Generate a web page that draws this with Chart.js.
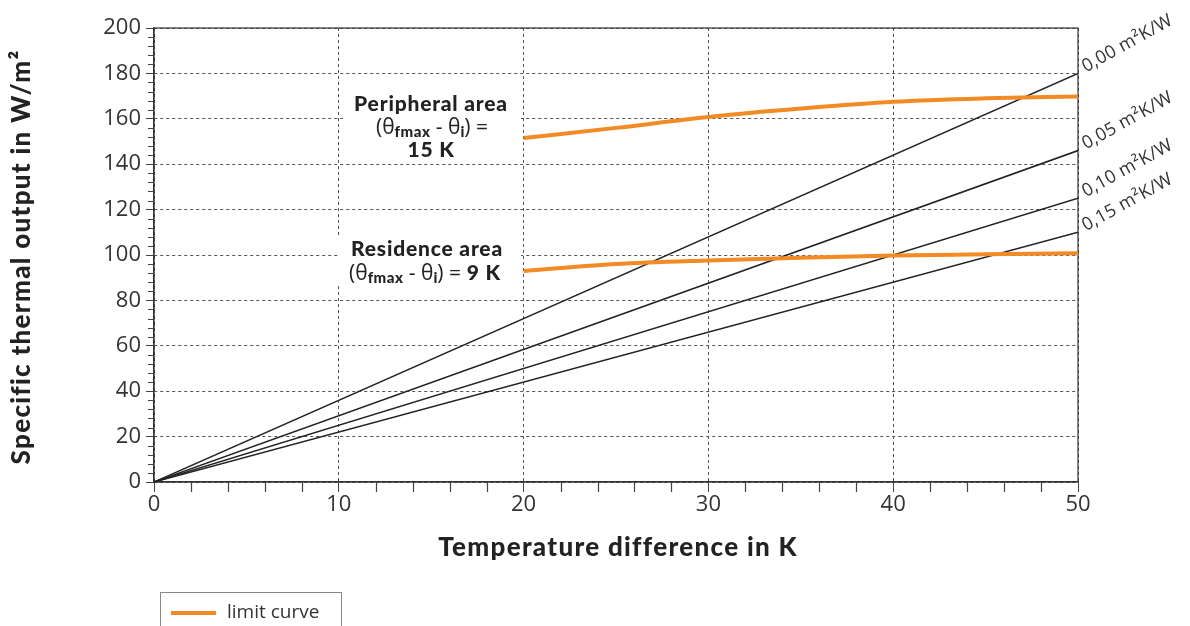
<!DOCTYPE html>
<html>
<head>
<meta charset="utf-8">
<script src="https://cdn.jsdelivr.net/npm/chart.js@4.4.0/dist/chart.umd.min.js"></script>
<style>
    body { margin: 0; background: #fff; overflow: hidden; }
    #wrap { position: relative; width: 1190px; height: 626px; }
    #legend {
        position: absolute; left: 160px; top: 592px; width: 182px; height: 40px;
        border: 1px solid #888; box-sizing: border-box;
        font-family: "Open Sans", sans-serif; font-size: 19px; color: #333;
    }
    #legend .swatch { position: absolute; left: 10px; top: 18px; width: 45px; height: 4px; background: #f28a26; }
    #legend .label { position: absolute; left: 66px; top: 5px; }
</style>
</head>
<body>
<div id="wrap">
    <canvas id="outputChart" width="1190" height="626"></canvas>
    <div id="legend"><span class="swatch"></span><span class="label">limit curve</span></div>
</div>
<script>
// Straight output lines for each floor covering resistance
const tempRange = [0, 50];
const resistanceLabels = ['0,00 m²K/W', '0,05 m²K/W', '0,10 m²K/W', '0,15 m²K/W'];
const outputAt50 = [180, 146, 125, 110];

// Limit curves
const limitTemps = [20, 25, 30, 35, 40, 45, 50];
const peripheralLimit = [151.5, 156, 160.8, 164.5, 167.5, 169, 169.8];
const residenceLimit = [93, 96, 97.6, 98.8, 99.8, 100.3, 100.8];

// Axis ticks
const xTicks = [0, 10, 20, 30, 40, 50];
const yTicks = [0, 20, 40, 60, 80, 100, 120, 140, 160, 180, 200];

const ORANGE = '#f28a26';
const INK = '#222';

const datasets = [];
outputAt50.forEach((v, i) => {
    datasets.push({
        label: resistanceLabels[i],
        data: [{ x: tempRange[0], y: 0 }, { x: tempRange[1], y: v }],
        borderColor: INK,
        borderWidth: 1.5,
        pointRadius: 0,
        order: 2
    });
});
datasets.push({
    label: 'Peripheral area',
    data: limitTemps.map((t, i) => ({ x: t, y: peripheralLimit[i] })),
    borderColor: ORANGE,
    borderWidth: 4,
    pointRadius: 0,
    cubicInterpolationMode: 'monotone',
    order: 1
});
datasets.push({
    label: 'Residence area',
    data: limitTemps.map((t, i) => ({ x: t, y: residenceLimit[i] })),
    borderColor: ORANGE,
    borderWidth: 4,
    pointRadius: 0,
    cubicInterpolationMode: 'monotone',
    order: 1
});

// Draw a line of mixed-font runs centred on cx
function drawRuns(ctx, runs, cx, y) {
    let total = 0;
    runs.forEach(r => {
        ctx.font = r.font;
        ctx.letterSpacing = r.ls || '0px';
        r.w = ctx.measureText(r.text).width;
        total += r.w;
    });
    let x = cx - total / 2;
    ctx.textAlign = 'left';
    ctx.textBaseline = 'alphabetic';
    runs.forEach(r => {
        ctx.font = r.font;
        ctx.letterSpacing = r.ls || '0px';
        ctx.fillText(r.text, x, y + (r.dy || 0));
        x += r.w;
    });
    ctx.letterSpacing = '0px';
}

const BOLD = (s) => `900 ${s}px Lato, sans-serif`;
const REG = (s) => `${s}px "Open Sans", sans-serif`;

function thetaRuns(tail) {
    const runs = [
        { text: '(θ', font: REG(21) },
        { text: 'fmax', font: BOLD(15), dy: 3, ls: '0.5px' },
        { text: ' - θ', font: REG(21) },
        { text: 'i', font: BOLD(15), dy: 3 },
        { text: ') =', font: REG(21) }
    ];
    if (tail) runs.push({ text: ' ' + tail, font: BOLD(21), ls: '0.8px' });
    return runs;
}

function boldLine(ctx, text, cx, y) {
    drawRuns(ctx, [{ text, font: BOLD(21), ls: '0.8px' }], cx, y);
}

const decorPlugin = {
    id: 'decor',
    beforeDatasetsDraw(chart) {
        const { ctx, scales: { x, y } } = chart;
        ctx.save();
        // white panels behind the annotations
        ctx.fillStyle = '#fff';
        ctx.fillRect(343, 90, 178, 70);
        ctx.fillRect(338, 237, 183, 48);

        ctx.fillStyle = '#222';
        boldLine(ctx, 'Peripheral area', 431, 111);
        drawRuns(ctx, thetaRuns(null), 432, 134);
        boldLine(ctx, '15 K', 431, 157);

        boldLine(ctx, 'Residence area', 427, 256);
        drawRuns(ctx, thetaRuns('9 K'), 425, 280);

        // frame
        const a = chart.chartArea;
        ctx.strokeStyle = '#333';
        ctx.lineWidth = 1.2;
        ctx.strokeRect(a.left, a.top, a.right - a.left, a.bottom - a.top);

        // minor ticks
        ctx.strokeStyle = '#444';
        ctx.lineWidth = 1.2;
        ctx.beginPath();
        for (let t = 2; t < 50; t += 2) {
            if (t % 10 === 0) continue;
            const px = Math.round(x.getPixelForValue(t)) + 0.5;
            ctx.moveTo(px, a.bottom);
            ctx.lineTo(px, a.bottom + 10);
        }
        for (let v = 4; v < 200; v += 4) {
            if (v % 20 === 0) continue;
            const py = Math.round(y.getPixelForValue(v)) + 0.5;
            ctx.moveTo(a.left - 6, py);
            ctx.lineTo(a.left, py);
        }
        ctx.stroke();
        ctx.restore();
    },
    afterDraw(chart) {
        const { ctx, scales: { x, y } } = chart;
        ctx.save();
        ctx.fillStyle = '#333';
        ctx.font = REG(18);
        ctx.letterSpacing = '0.3px';
        ctx.textAlign = 'left';
        ctx.textBaseline = 'alphabetic';
        const x50 = x.getPixelForValue(50);
        outputAt50.forEach((v, i) => {
            ctx.save();
            ctx.translate(x50 + 8, y.getPixelForValue(v) - 1);
            ctx.rotate(-29 * Math.PI / 180);
            ctx.fillText(resistanceLabels[i], 0, 0);
            ctx.restore();
        });

        // axis titles
        ctx.fillStyle = '#222';
        ctx.font = BOLD(26);
        ctx.letterSpacing = '1.3px';
        ctx.textAlign = 'center';
        ctx.textBaseline = 'middle';
        ctx.fillText('Temperature difference in K', 618, 548);
        ctx.save();
        ctx.translate(22, 257);
        ctx.rotate(-Math.PI / 2);
        ctx.fillText('Specific thermal output in W/m²', 0, 0);
        ctx.restore();
        ctx.letterSpacing = '0px';
        ctx.restore();
    }
};

new Chart(document.getElementById('outputChart').getContext('2d'), {
    type: 'line',
    data: { datasets },
    plugins: [decorPlugin],
    options: {
        responsive: false,
        animation: false,
        devicePixelRatio: 1,
        layout: { padding: { top: 28, right: 112, left: 0, bottom: 0 } },
        plugins: { legend: { display: false }, tooltip: { enabled: false } },
        scales: {
            x: {
                type: 'linear',
                min: 0,
                max: 50,
                afterBuildTicks: (scale) => { scale.ticks = xTicks.map(v => ({ value: v })); },
                afterFit: (scale) => { scale.height = 144; },
                ticks: {
                    color: '#333',
                    font: { family: '"Open Sans", sans-serif', size: 22 },
                    padding: 0,
                    maxRotation: 0
                },
                grid: { color: '#555', lineWidth: 1, tickLength: 10, tickColor: '#444' },
                border: { color: '#333', width: 1.2, dash: [3, 3] }
            },
            y: {
                min: 0,
                max: 200,
                afterBuildTicks: (scale) => { scale.ticks = yTicks.map(v => ({ value: v })); },
                afterFit: (scale) => { scale.width = 154; },
                ticks: {
                    color: '#333',
                    font: { family: '"Open Sans", sans-serif', size: 22 },
                    padding: 5
                },
                grid: { color: '#555', lineWidth: 1, tickLength: 8, tickColor: '#444' },
                border: { color: '#333', width: 1.2, dash: [3, 3] }
            }
        }
    }
});
</script>
</body>
</html>
